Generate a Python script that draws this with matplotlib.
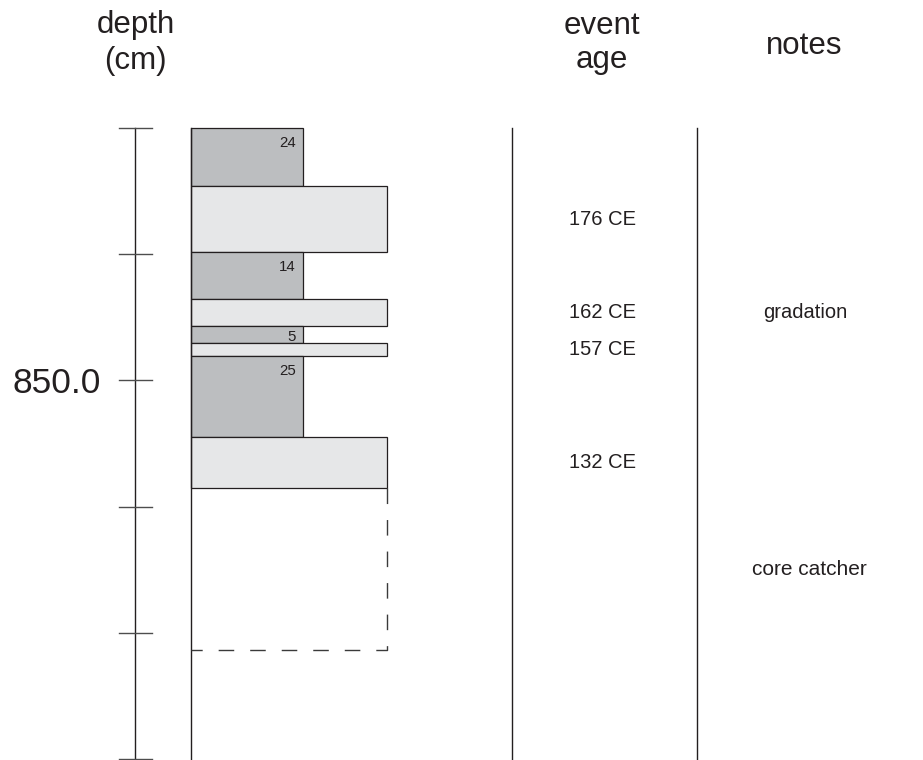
import matplotlib
matplotlib.use("Agg")
import matplotlib.pyplot as plt
from matplotlib.patches import Rectangle

plt.rcParams['font.family'] = ['Liberation Sans', 'DejaVu Sans']
plt.rcParams['lines.scale_dashes'] = False

# ---- data ----
depth_ticks = [840, 845, 850, 855, 860, 865]
depth_tick_labels = {850: "850.0"}
layer_bounds = [840.0, 842.30, 844.93, 846.78, 847.84, 848.52, 849.05, 852.23, 854.26]
layer_types = ["dark", "light", "dark", "light", "dark", "light", "dark", "light"]
dark_counts = ["24", "14", "5", "25"]
event_ages = ["176 CE", "162 CE", "157 CE", "132 CE"]
notes_text = {"162 CE": "gradation"}
core_catcher_top = 854.26
core_catcher_bottom = 860.68
core_catcher_note = "core catcher"
core_bottom = 865.0

INK = '#231f20'
DARK = '#bcbec0'
LIGHT = '#e6e7e8'

fig = plt.figure(figsize=(9.23, 7.60), dpi=100)
ax = fig.add_axes([0, 0, 1, 1])
Y_TOP = 834.95
ax.set_xlim(0, 923)
ax.set_ylim(865.02, Y_TOP)
ax.axis('off')

# layout (x in pixel-like units)
x_axis = 135.0
tick_l, tick_r = 119.0, 151.7
col_l = 190.7
dark_r = 303.3
light_r = 387.3
event_line_x = 512.3
notes_line_x = 696.7
event_x = 602.8
notes_x = 805.5

# depth scale
ax.plot([x_axis, x_axis], [depth_ticks[0], depth_ticks[-1]], color=INK, lw=1.0)
for t in depth_ticks:
    ax.plot([tick_l, tick_r], [t, t], color='#4d4d4d', lw=1.0)
    if t in depth_tick_labels:
        ax.text(101, t, depth_tick_labels[t], ha='right', va='center_baseline',
                fontsize=25.5, color=INK)

# layers
dark_i = 0
light_i = 0
for i, kind in enumerate(layer_types):
    top, bot = layer_bounds[i], layer_bounds[i + 1]
    right = dark_r if kind == "dark" else light_r
    ax.add_patch(Rectangle((col_l, top), right - col_l, bot - top,
                           facecolor=DARK if kind == "dark" else LIGHT,
                           edgecolor=INK, lw=0.9))
    if kind == "dark":
        y = min(top + 0.75, bot - 0.06)
        ax.text(296, y, dark_counts[dark_i], ha='right', va='baseline',
                fontsize=10.8, color=INK)
        dark_i += 1
    else:
        lab = event_ages[light_i]
        mid = (top + bot) / 2
        ax.text(event_x, mid, lab, ha='center', va='center', fontsize=14.5, color=INK)
        if lab in notes_text:
            ax.text(notes_x, mid, notes_text[lab], ha='center', va='center',
                    fontsize=14.5, color=INK)
        light_i += 1

# column left line
ax.plot([col_l, col_l], [layer_bounds[0], core_bottom], color=INK, lw=1.0)

# core catcher dashed outline
ax.plot([light_r, light_r, col_l], [core_catcher_top, core_catcher_bottom, core_catcher_bottom],
        color='#3a3a3a', lw=1.0, linestyle=(0, (11.2, 11.5)))
ax.text(809, (core_catcher_top + core_catcher_bottom) / 2, core_catcher_note,
        ha='center', va='center', fontsize=15, color=INK)

# event / notes column lines
for xl in (event_line_x, notes_line_x):
    ax.plot([xl, xl], [layer_bounds[0], core_bottom], color=INK, lw=1.0)

# headers (baseline placed in pixel offsets from top)
def hdr(x, ypx, s):
    ax.text(x, Y_TOP + ypx / 25.27, s, ha='center', va='baseline', fontsize=22.5, color=INK)

hdr(135.5, 33, "depth")
hdr(135.5, 69, "(cm)")
hdr(601.7, 34, "event")
hdr(601.7, 68, "age")
hdr(804.7, 54, "notes")

fig.savefig("out.png", dpi=100)
